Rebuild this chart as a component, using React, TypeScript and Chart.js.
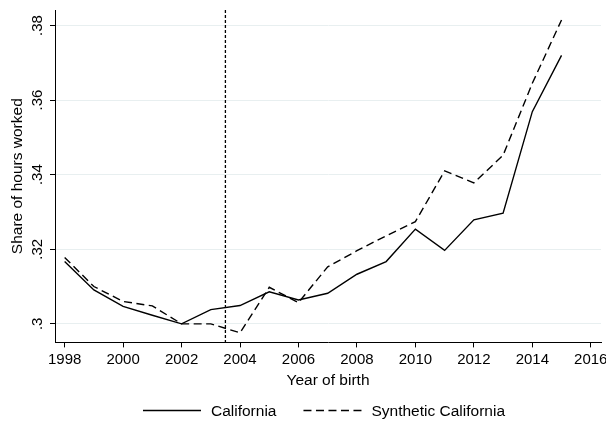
import React, { useEffect, useRef } from 'react';
import { Chart, registerables } from 'chart.js';

Chart.register(...registerables);

// ---- data ----
const years = [1998, 1999, 2000, 2001, 2002, 2003, 2004, 2005, 2006, 2007, 2008, 2009, 2010, 2011, 2012, 2013, 2014, 2015];
const california = [0.3167, 0.3091, 0.3047, 0.3023, 0.3000, 0.3038, 0.3049, 0.3086, 0.3064, 0.3082, 0.3133, 0.3167, 0.3254, 0.3197, 0.3279, 0.3297, 0.3569, 0.3720];
const syntheticCalifornia = [0.3178, 0.3100, 0.3060, 0.3048, 0.3000, 0.3000, 0.2976, 0.3098, 0.3057, 0.3153, 0.3196, 0.3236, 0.3274, 0.3410, 0.3378, 0.3452, 0.3645, 0.3815];
const seriesNames = ['California', 'Synthetic California'];
const xTickValues = [1998, 2000, 2002, 2004, 2006, 2008, 2010, 2012, 2014, 2016];
const yTickValues = [0.3, 0.32, 0.34, 0.36, 0.38];
const yTickLabels = ['.3', '.32', '.34', '.36', '.38'];
const treatmentYear = 2003.5;
const xTitle = 'Year of birth';
const yTitle = 'Share of hours worked';

const FONT = '"Liberation Sans", Arial, Helvetica, sans-serif';
const SYN_DASH = [8, 4.5];

const rotatedYTicks = {
  id: 'rotatedYTicks',
  afterDraw(chart: any) {
    const y = chart.scales.y;
    const ctx = chart.ctx;
    ctx.save();
    ctx.font = `15px ${FONT}`;
    ctx.fillStyle = '#000';
    ctx.textAlign = 'center';
    ctx.textBaseline = 'middle';
    yTickValues.forEach((v, i) => {
      const py = y.getPixelForValue(v);
      ctx.save();
      ctx.translate(37.5, py);
      ctx.rotate(-Math.PI / 2);
      ctx.fillText(yTickLabels[i], 0, 0);
      ctx.restore();
    });
    ctx.restore();
  },
};

const treatmentLine = {
  id: 'treatmentLine',
  afterDatasetsDraw(chart: any) {
    const { ctx, chartArea } = chart;
    const px = chart.scales.x.getPixelForValue(treatmentYear);
    ctx.save();
    ctx.strokeStyle = '#000';
    ctx.lineWidth = 1.3;
    ctx.setLineDash([3, 2]);
    ctx.beginPath();
    ctx.moveTo(px, chartArea.top);
    ctx.lineTo(px, chartArea.bottom);
    ctx.stroke();
    ctx.restore();
  },
};

const bottomLegend = {
  id: 'bottomLegend',
  afterDraw(chart: any) {
    const { ctx, chartArea } = chart;
    ctx.save();
    ctx.font = `15.5px ${FONT}`;
    const lineLen = 58;
    const gap = 10;
    const itemGap = 27;
    const w = seriesNames.map((n) => ctx.measureText(n).width);
    const total = lineLen * 2 + gap * 2 + w[0] + w[1] + itemGap;
    const cx = (chartArea.left + chartArea.right) / 2 - 4;
    let x = cx - total / 2;
    const y = 410.5;
    const dashes = [[], SYN_DASH];
    seriesNames.forEach((name, i) => {
      ctx.strokeStyle = '#000';
      ctx.lineWidth = 1.4;
      ctx.setLineDash(dashes[i]);
      ctx.beginPath();
      ctx.moveTo(x, y);
      ctx.lineTo(x + lineLen, y);
      ctx.stroke();
      ctx.setLineDash([]);
      ctx.fillStyle = '#000';
      ctx.textAlign = 'left';
      ctx.textBaseline = 'middle';
      ctx.fillText(name, x + lineLen + gap, y + 1);
      x += lineLen + gap + w[i] + itemGap;
    });
    ctx.restore();
  },
};

export default function App() {
  const canvasRef = useRef<HTMLCanvasElement | null>(null);

  useEffect(() => {
    if (!canvasRef.current) return;
    const chart = new Chart(canvasRef.current, {
      type: 'line',
      data: {
        datasets: [
          {
            label: seriesNames[0],
            data: years.map((yr, i) => ({ x: yr, y: california[i] })),
            borderColor: '#000',
            borderWidth: 1.4,
            pointRadius: 0,
            fill: false,
            tension: 0,
          },
          {
            label: seriesNames[1],
            data: years.map((yr, i) => ({ x: yr, y: syntheticCalifornia[i] })),
            borderColor: '#000',
            borderWidth: 1.4,
            borderDash: SYN_DASH,
            pointRadius: 0,
            fill: false,
            tension: 0,
          },
        ],
      },
      options: {
        animation: false,
        responsive: true,
        maintainAspectRatio: false,
        layout: { padding: { left: 0, right: 5, top: 10, bottom: 35 } },
        plugins: {
          legend: { display: false },
          tooltip: { enabled: false },
        },
        scales: {
          x: {
            type: 'linear',
            min: 1997.67,
            max: 2016.35,
            afterBuildTicks: (scale: any) => {
              scale.ticks = xTickValues.map((v) => ({ value: v }));
            },
            afterFit: (scale: any) => {
              scale.paddingLeft = 0;
              scale.paddingRight = 0;
            },
            ticks: {
              autoSkip: false,
              maxRotation: 0,
              minRotation: 0,
              padding: 3,
              color: '#000',
              font: { family: FONT, size: 15 },
              callback: (v: any) => String(v),
            },
            grid: {
              drawOnChartArea: false,
              drawTicks: true,
              tickLength: 5,
              tickColor: '#000',
              tickWidth: 1,
            },
            border: { display: true, color: '#000', width: 1 },
            title: {
              display: true,
              text: xTitle,
              color: '#000',
              font: { family: FONT, size: 15.5 },
              padding: { top: 0, bottom: 0 },
            },
          },
          y: {
            type: 'linear',
            min: 0.29502,
            max: 0.38416,
            afterBuildTicks: (scale: any) => {
              scale.ticks = yTickValues.map((v) => ({ value: v }));
            },
            afterFit: (scale: any) => {
              scale.width = 55;
            },
            ticks: { display: false },
            grid: {
              drawOnChartArea: true,
              color: '#e8eff0',
              lineWidth: 1,
              drawTicks: true,
              tickLength: 5,
              tickColor: '#000',
              tickWidth: 1,
            },
            border: { display: true, color: '#000', width: 1 },
            title: {
              display: true,
              text: yTitle,
              color: '#000',
              font: { family: FONT, size: 15.5 },
              padding: { top: 8, bottom: 0 },
            },
          },
        },
      },
      plugins: [treatmentLine, rotatedYTicks, bottomLegend],
    });
    return () => chart.destroy();
  }, []);

  return (
    <div style={{ position: 'fixed', left: 0, top: 0, width: 606, height: 425, background: '#fff' }}>
      <canvas ref={canvasRef} />
    </div>
  );
}
